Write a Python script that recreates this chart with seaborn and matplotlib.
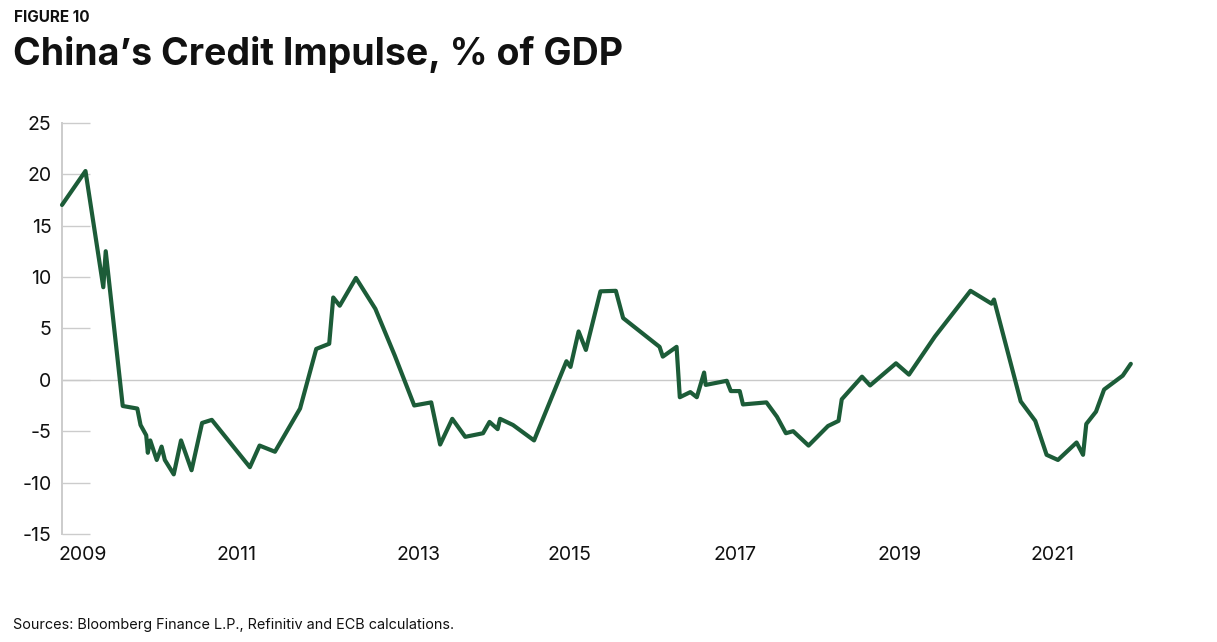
import numpy as np
import pandas as pd
import seaborn as sns
import matplotlib.pyplot as plt

# China credit impulse, % of GDP (x in decimal years)
years = [2008.75, 2009.04, 2009.26, 2009.29, 2009.50, 2009.68, 2009.72, 2009.79,
         2009.81, 2009.84, 2009.92, 2009.98, 2010.02, 2010.13, 2010.22, 2010.35,
         2010.48, 2010.60, 2011.07, 2011.19, 2011.38, 2011.69, 2011.89, 2012.05,
         2012.10, 2012.18, 2012.38, 2012.62, 2012.86, 2013.10, 2013.31, 2013.42,
         2013.57, 2013.73, 2013.95, 2014.03, 2014.13, 2014.16, 2014.32, 2014.58,
         2014.98, 2015.03, 2015.13, 2015.22, 2015.40, 2015.59, 2015.68, 2016.13,
         2016.17, 2016.34, 2016.38, 2016.51, 2016.59, 2016.68, 2016.70, 2016.96,
         2017.01, 2017.12, 2017.16, 2017.45, 2017.58, 2017.69, 2017.78, 2017.97,
         2018.21, 2018.34, 2018.38, 2018.63, 2018.73, 2019.05, 2019.21, 2019.53,
         2019.97, 2020.23, 2020.26, 2020.59, 2020.77, 2020.91, 2021.05, 2021.28,
         2021.36, 2021.40, 2021.52, 2021.62, 2021.85, 2021.95]
impulse = [17.0, 20.3, 9.0, 12.5, -2.55, -2.8, -4.4, -5.4,
           -7.1, -5.9, -7.8, -6.5, -7.8, -9.2, -5.9, -8.8,
           -4.2, -3.9, -8.5, -6.4, -7.0, -2.8, 3.0, 3.5,
           8.0, 7.2, 9.9, 6.9, 2.35, -2.5, -2.2, -6.3,
           -3.8, -5.55, -5.2, -4.1, -4.8, -3.8, -4.4, -5.9,
           1.8, 1.25, 4.7, 2.9, 8.6, 8.65, 6.0, 3.2,
           2.25, 3.2, -1.7, -1.2, -1.7, 0.7, -0.5, -0.1,
           -1.1, -1.1, -2.4, -2.2, -3.6, -5.2, -5.0, -6.4,
           -4.5, -4.0, -1.9, 0.3, -0.55, 1.6, 0.5, 4.2,
           8.65, 7.4, 7.8, -2.1, -4.0, -7.3, -7.8, -6.1,
           -7.3, -4.3, -3.1, -0.95, 0.4, 1.55]

xtick_pos = [2009.0, 2010.91, 2013.15, 2015.02, 2017.06, 2019.10, 2020.98]
xtick_labels = ['2009', '2011', '2013', '2015', '2017', '2019', '2021']
yticks = [-15, -10, -5, 0, 5, 10, 15, 20, 25]

df = pd.DataFrame({'year': years, 'impulse': impulse})

sns.set_theme(style='white')
plt.rcParams['font.family'] = ['Inter', 'DejaVu Sans']

fig = plt.figure(figsize=(12.17, 6.42), dpi=100)
ax = fig.add_axes([62 / 1217, 1 - 534 / 642, (1113 - 62) / 1217, (534 - 122.7) / 642])

ax.axhline(0, color='#c9c9c9', lw=1.0, zorder=1)
sns.lineplot(data=df, x='year', y='impulse', ax=ax, color='#1c5c38',
             lw=3.0, clip_on=False, zorder=3)

ax.set_xlim(2008.75, 2021.73)
ax.set_ylim(-15, 25)
ax.set_yticks(yticks)
ax.set_yticklabels([str(v) for v in yticks])
ax.set_xticks(xtick_pos)
ax.set_xticklabels(xtick_labels)
ax.set_xlabel('')
ax.set_ylabel('')

ax.tick_params(axis='y', direction='in', length=20, width=1.0, color='#cccccc',
               pad=7.5, labelsize=14, labelcolor='#111111', left=True)
ax.tick_params(axis='x', length=0, pad=9, labelsize=14, labelcolor='#111111')

for side in ['top', 'right', 'bottom']:
    ax.spines[side].set_visible(False)
ax.spines['left'].set_color('#cccccc')
ax.spines['left'].set_linewidth(1.4)

fig.text(14 / 1217, 1 - 10 / 642, 'FIGURE 10', fontsize=11, fontweight='bold',
         va='top', ha='left', color='#111111')
fig.text(13 / 1217, 1 - 36 / 642, 'China\u2019s Credit Impulse, % of GDP', fontsize=27,
         fontweight='bold', va='top', ha='left', color='#111111')
fig.text(13 / 1217, 1 - 625 / 642, 'Sources: Bloomberg Finance L.P., Refinitiv and ECB calculations.',
         fontsize=10.4, va='center', ha='left', color='#111111')

fig.savefig('out.png', dpi=100, facecolor='white')
